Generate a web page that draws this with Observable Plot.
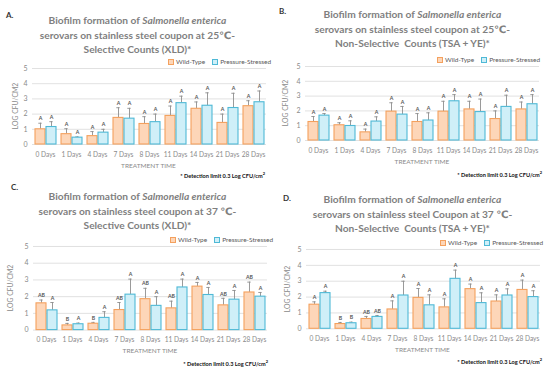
<!DOCTYPE html>
<html><head><meta charset="utf-8">
<script src="https://cdn.jsdelivr.net/npm/d3@7"></script>
<script src="https://cdn.jsdelivr.net/npm/@observablehq/plot@0.6"></script>
<style>
body{margin:0;background:#fff;}
#root{position:relative;width:550px;height:371px;overflow:hidden;font-family:Lato,"DejaVu Sans",sans-serif;}
.panel{position:absolute;width:275px;height:186px;}
.tag{position:absolute;font-size:8px;color:#333;font-weight:bold;}
.title{position:absolute;left:0;width:275px;text-align:center;color:#7f7f7f;font-weight:bold;font-size:10.2px;line-height:14.5px;white-space:nowrap;}
.legend{position:absolute;display:flex;align-items:center;font-size:6.5px;color:#595959;white-space:nowrap;}
.legend span.sw{display:inline-block;width:4px;height:4px;border:1px solid;margin-right:2px;}
.legend .item{display:flex;align-items:center;margin-right:7px;}
.note{position:absolute;font-size:5.6px;font-weight:bold;color:#111;white-space:nowrap;}
.panel svg{position:absolute;left:0;overflow:visible;}
</style>
</head><body><div id="root"></div>
<script>
const days = ["0 Days","1 Days","4 Days","7 Days","8 Days","11 Days","14 Days","21 Days","28 Days"];
const series = ["Wild-Type","Pressure-Stressed"];
const yTicks = [0,1,2,3,4,5];

// Panel A: 25 °C selective (XLD)
const aWild = [1.0,0.68,0.55,1.75,1.35,1.88,2.35,1.42,2.52];
const aWildErr = [0.4,0.36,0.3,0.67,0.48,0.65,0.45,0.58,0.36];
const aWildLet = ["A","A","A","A","A","A","A","A","A"];
const aPress = [1.15,0.45,0.78,1.7,1.47,2.72,2.55,2.4,2.78];
const aPressErr = [0.35,0.05,0.22,0.68,0.53,0.46,0.85,0.97,0.74];
const aPressLet = ["A","A","A","A","A","A","A","A","A"];

// Panel B: 25 °C non-selective (TSA + YE)
const bWild = [1.25,1.03,0.55,1.95,1.25,1.95,2.1,1.45,2.1];
const bWildErr = [0.37,0.17,0.22,0.6,0.57,0.7,0.55,0.55,0.5];
const bWildLet = ["A","A","A","A","A","A","A","A","A"];
const bPress = [1.68,0.98,1.28,1.75,1.35,2.65,1.92,2.27,2.45];
const bPressErr = [0.14,0.35,0.32,0.55,0.52,0.45,0.88,0.79,0.65];
const bPressLet = ["A","A","A","A","A","A","A","A","A"];

// Panel C: 37 °C selective (XLD)
const cWild = [1.6,0.28,0.38,1.2,1.85,1.3,2.6,1.48,2.25];
const cWildErr = [0.2,0.12,0.08,0.45,0.65,0.43,0.25,0.42,0.62];
const cWildLet = ["AB","B","B","AB","AB","AB","A","AB","AB"];
const cPress = [1.18,0.35,0.73,2.12,1.45,2.55,2.1,1.82,2.0];
const cPressErr = [0.47,0.07,0.37,0.93,0.55,0.5,0.45,0.55,0.25];
const cPressLet = ["A","A","A","A","A","A","A","A","A"];

// Panel D: 37 °C non-selective (TSA + YE)
const dWild = [1.52,0.3,0.62,1.22,1.95,1.35,2.5,1.72,2.45];
const dWildErr = [0.18,0.1,0.16,0.54,0.59,0.54,0.32,0.42,0.62];
const dWildLet = ["A","B","AB","A","A","A","A","A","A"];
const dPress = [2.25,0.35,0.75,2.1,1.48,3.15,1.62,2.1,2.0];
const dPressErr = [0.12,0.07,0.09,0.9,0.66,0.55,0.65,0.42,0.4];
const dPressLet = ["A","B","AB","A","A","A","A","A","A"];

const titlesA = ["Biofilm formation of <i>Salmonella enterica</i>","serovars on stainless steel coupon at 25℃-","Selective Counts (XLD)*"];
const titlesB = ["Biofilm formation of <i>Salmonella enterica</i>","serovars on stainless steel coupon at 25℃-","Non-Selective&nbsp; Counts (TSA + YE)*"];
const titlesC = ["Biofilm formation of <i>Salmonella enterica</i>","serovars on stainless steel coupon at 37 ℃-","Selective Counts (XLD)*"];
const titlesD = ["Biofilm formation of <i>Salmonella enterica</i>","serovars on stainless steel Coupon at 37 ℃-","Non-Selective&nbsp; Counts (TSA + YE)*"];

const WT_FILL = "#fdd6b8", WT_STROKE = "#f4a15e";
const PS_FILL = "#cfeff8", PS_STROKE = "#4fb9d6";

const panels = [
  {tag:"A.", left:0, top:0, tagX:6, tagY:10, titleTop:13, titles:titlesA, legX:168, legY:62,
   gridL:30, gridR:267, y5:68, y0:144, yLabX:15, noteY:175, noteR:10,
   wild:aWild, wildErr:aWildErr, wildLet:aWildLet, press:aPress, pressErr:aPressErr, pressLet:aPressLet},
  {tag:"B.", left:275, top:0, tagX:4, tagY:6, titleTop:7, titles:titlesB, legX:162, legY:60,
   gridL:27, gridR:267, y5:66.3, y0:140.3, yLabX:10, noteY:174, noteR:8,
   wild:bWild, wildErr:bWildErr, wildLet:bWildLet, press:bPress, pressErr:bPressErr, pressLet:bPressLet},
  {tag:"C.", left:0, top:185, tagX:11, tagY:-3, titleTop:4, titles:titlesC, legX:170, legY:55,
   gridL:32, gridR:268, y5:60.7, y0:144.3, yLabX:10, noteY:178, noteR:7,
   wild:cWild, wildErr:cWildErr, wildLet:cWildLet, press:cPress, pressErr:cPressErr, pressLet:cPressLet},
  {tag:"D.", left:275, top:185, tagX:8, tagY:8, titleTop:7, titles:titlesD, legX:165, legY:58,
   gridL:28, gridR:267, y5:64, y0:143.3, yLabX:12, noteY:176, noteR:8,
   wild:dWild, wildErr:dWildErr, wildLet:dWildLet, press:dPress, pressErr:dPressErr, pressLet:dPressLet}
];

const root = document.getElementById("root");

for (const p of panels) {
  const div = document.createElement("div");
  div.className = "panel";
  div.style.left = p.left + "px";
  div.style.top = p.top + "px";
  root.appendChild(div);

  const tag = document.createElement("div");
  tag.className = "tag"; tag.textContent = p.tag;
  tag.style.left = p.tagX + "px"; tag.style.top = p.tagY + "px";
  div.appendChild(tag);

  const title = document.createElement("div");
  title.className = "title";
  title.style.top = p.titleTop + "px";
  title.innerHTML = p.titles.join("<br>");
  div.appendChild(title);

  const leg = document.createElement("div");
  leg.className = "legend";
  leg.style.left = p.legX + "px"; leg.style.top = (p.legY - 4) + "px";
  leg.innerHTML = `<div class="item"><span class="sw" style="background:${WT_FILL};border-color:${WT_STROKE}"></span>${series[0]}</div>` +
                  `<div class="item"><span class="sw" style="background:${PS_FILL};border-color:${PS_STROKE}"></span>${series[1]}</div>`;
  div.appendChild(leg);

  const rows = [];
  days.forEach((d, i) => {
    rows.push({day:d, series:series[0], value:p.wild[i], hi:p.wild[i] + p.wildErr[i], letter:p.wildLet[i]});
    rows.push({day:d, series:series[1], value:p.press[i], hi:p.press[i] + p.pressErr[i], letter:p.pressLet[i]});
  });
  const wt = rows.filter(r => r.series === series[0]);
  const ps = rows.filter(r => r.series === series[1]);

  const mTop = 8, mBottom = 30;
  const h = mTop + (p.y0 - p.y5) + mBottom;
  const chart = Plot.plot({
    width: 275,
    height: h,
    marginTop: mTop,
    marginBottom: mBottom,
    marginLeft: p.gridL,
    marginRight: 275 - p.gridR,
    style: {fontFamily: "Lato, sans-serif", fontSize: "7px", color: "#8a8a8a", background: "transparent"},
    fx: {domain: days, padding: 0, label: null},
    x: {domain: series, paddingInner: 0.12, paddingOuter: 0.18, axis: null},
    y: {domain: [0, 5], label: null},
    marks: [
      Plot.gridY(yTicks, {stroke: "#d9d9d9", strokeOpacity: 1, strokeWidth: 0.8}),
      Plot.axisY(yTicks, {tickSize: 0, tickPadding: 5, fontSize: 7, label: null}),
      Plot.axisFx({anchor: "bottom", tickSize: 0, tickPadding: 7.5, fontSize: 6.6, label: null}),
      Plot.ruleX(rows, {fx: "day", x: "series", y1: "value", y2: "hi", stroke: "#8f8f8f", strokeWidth: 0.9}),
      Plot.tickY(rows, {fx: "day", x: "series", y: "hi", stroke: "#8f8f8f", strokeWidth: 0.9, insetLeft: 3.3, insetRight: 3.3}),
      Plot.barY(wt, {fx: "day", x: "series", y: "value", fill: WT_FILL, stroke: WT_STROKE, strokeWidth: 1.1}),
      Plot.barY(ps, {fx: "day", x: "series", y: "value", fill: PS_FILL, stroke: PS_STROKE, strokeWidth: 1.1}),
      Plot.text(rows, {fx: "day", x: "series", y: "hi", text: "letter", dy: -4.5, fontSize: 5.2, fill: "#555", fontWeight: "bold"}),
      Plot.frame({stroke: "none"})
    ]
  });
  chart.style.top = (p.y5 - mTop) + "px";
  div.appendChild(chart);

  // axis titles
  const yl = document.createElement("div");
  yl.textContent = "LOG CFU/CM2";
  yl.style.cssText = `position:absolute;font-size:6.8px;color:#8a8a8a;white-space:nowrap;transform:translate(-50%,-50%) rotate(-90deg);left:${p.yLabX}px;top:${(p.y0 + p.y5) / 2}px;`;
  div.appendChild(yl);

  const xl = document.createElement("div");
  xl.textContent = "TREATMENT TIME";
  xl.style.cssText = `position:absolute;font-size:6.5px;color:#8a8a8a;white-space:nowrap;transform:translate(-50%,-50%);left:${(p.gridL + p.gridR) / 2}px;top:${p.y0 + 21}px;`;
  div.appendChild(xl);

  const note = document.createElement("div");
  note.className = "note";
  note.innerHTML = "* Detection limit 0.3 Log CFU/cm<sup style='font-size:4px'>2</sup>";
  note.style.right = p.noteR + "px";
  note.style.top = (p.noteY - 4) + "px";
  div.appendChild(note);
}
</script>
</body></html>
